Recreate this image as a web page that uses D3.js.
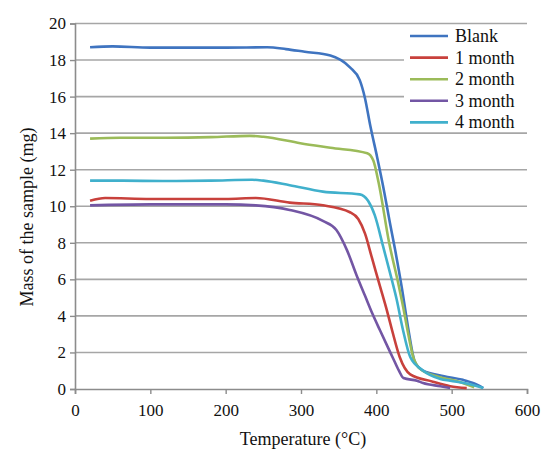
<!DOCTYPE html>
<html><head><meta charset="utf-8">
<script src="https://cdn.jsdelivr.net/npm/d3@7"></script>
</head>
<body style="margin:0;background:#fff">
<svg id="chart" width="543" height="450" font-family="Liberation Serif"></svg>
<script>
const seriesNames = ["Blank","1 month","2 month","3 month","4 month"];
const seriesColors = ["#3f74c0","#c8413c","#9bbb59","#7356a4","#40b0cc"];
const xTicks = [0,100,200,300,400,500,600];
const yTicks = [0,2,4,6,8,10,12,14,16,18,20];

const blankT = [20,50,100,150,200,255,280,305,339,365,378,385,392,401,409,418,425,434,442,451,462,490,515,530,542];
const blankV = [18.7,18.75,18.68,18.68,18.68,18.7,18.6,18.45,18.25,17.6,16.9,15.9,14.4,12.7,11.1,9.1,7.6,5.5,3.4,1.5,1.0,0.7,0.5,0.3,0.05];
const m1T = [20,40,100,200,240,285,329,365,376,385,394,405,414,421,431,445,475,498,520];
const m1V = [10.3,10.45,10.4,10.4,10.45,10.2,10.05,9.67,9.3,8.5,7.2,5.6,4.3,3.2,1.75,0.8,0.4,0.15,0.05];
const m2T = [20,60,120,180,232,250,299,339,388,396,403,417,429,436,441,449,458,480,510,530];
const m2V = [13.7,13.75,13.75,13.78,13.85,13.8,13.45,13.2,12.9,12.5,11.3,8.0,5.8,4.4,3.3,1.75,1.1,0.7,0.4,0.1];
const m3T = [20,100,200,240,285,329,347,361,374,385,395,405,414,422,430,436,454,462,485,498];
const m3V = [10.05,10.1,10.1,10.05,9.8,9.2,8.7,7.6,6.2,5.1,4.1,3.2,2.4,1.7,1.0,0.6,0.45,0.33,0.15,0.05];
const m4T = [20,60,120,180,235,250,285,329,378,389,398,409,421,427,435,445,461,485,498,520,542];
const m4V = [11.4,11.4,11.38,11.4,11.45,11.4,11.15,10.8,10.65,10.3,9.5,7.8,5.9,4.9,3.3,1.75,1.04,0.55,0.45,0.3,0.05];

const seriesT = [blankT,m1T,m2T,m3T,m4T];
const seriesV = [blankV,m1V,m2V,m3V,m4V];
const FONT = "'Liberation Serif'";

const svg = d3.select("#chart");
const x = d3.scaleLinear().domain([0,600]).range([75,527]);
const y = d3.scaleLinear().domain([0,20]).range([389,23.5]);

svg.append("g").selectAll("line").data(yTicks.filter(v=>v>0)).join("line")
  .attr("x1",x(0)).attr("x2",x(600))
  .attr("y1",d=>y(d)).attr("y2",d=>y(d))
  .attr("stroke","#a6a6a6").attr("stroke-width",1.6);

const yAxis = d3.axisLeft(y).tickValues(yTicks).tickSize(5).tickPadding(4);
const gy = svg.append("g").attr("transform",`translate(${x(0)},0)`).call(yAxis);
const xAxis = d3.axisBottom(x).tickValues(xTicks).tickSize(5).tickPadding(10);
const gx = svg.append("g").attr("transform",`translate(0,${y(0)})`).call(xAxis);
[gx,gy].forEach(g=>{
  g.attr("font-family","Liberation Serif").attr("font-size",17);
  g.select(".domain").attr("stroke","#8c8c8c").attr("stroke-width",1.6);
  g.selectAll(".tick line").attr("stroke","#8c8c8c").attr("stroke-width",1.4);
  g.selectAll(".tick text").style("font-family",FONT).style("font-size","17px").attr("fill","#111");
});

const line = d3.line().x(d=>x(d[0])).y(d=>y(d[1])).curve(d3.curveMonotoneX);
seriesNames.forEach((n,i)=>{
  const pts = seriesT[i].map((t,j)=>[t,seriesV[i][j]]);
  svg.append("path").datum(pts).attr("d",line)
    .attr("fill","none").attr("stroke",seriesColors[i]).attr("stroke-width",2.6)
    .attr("stroke-linejoin","round");
});

const lg = svg.append("g").attr("font-family","Liberation Serif");
lg.append("rect").attr("x",404).attr("y",25).attr("width",124).attr("height",107).attr("fill","#fff");
seriesNames.forEach((n,i)=>{
  const yy = 36 + i*21.6;
  lg.append("line").attr("x1",410).attr("x2",448).attr("y1",yy).attr("y2",yy)
    .attr("stroke",seriesColors[i]).attr("stroke-width",2.6);
  lg.append("text").attr("x",455).attr("y",yy+6).style("font-family",FONT).style("font-size","18px").attr("fill","#111").text(n);
});

svg.append("text").attr("x",303).attr("y",445).attr("text-anchor","middle").style("font-family",FONT).style("font-size","18px").attr("fill","#111").text("Temperature (°C)");
svg.append("text").attr("transform","translate(33,217) rotate(-90)").attr("text-anchor","middle").style("font-family",FONT).style("font-size","18px").attr("fill","#111").text("Mass of the sample (mg)");
</script>
</body></html>
